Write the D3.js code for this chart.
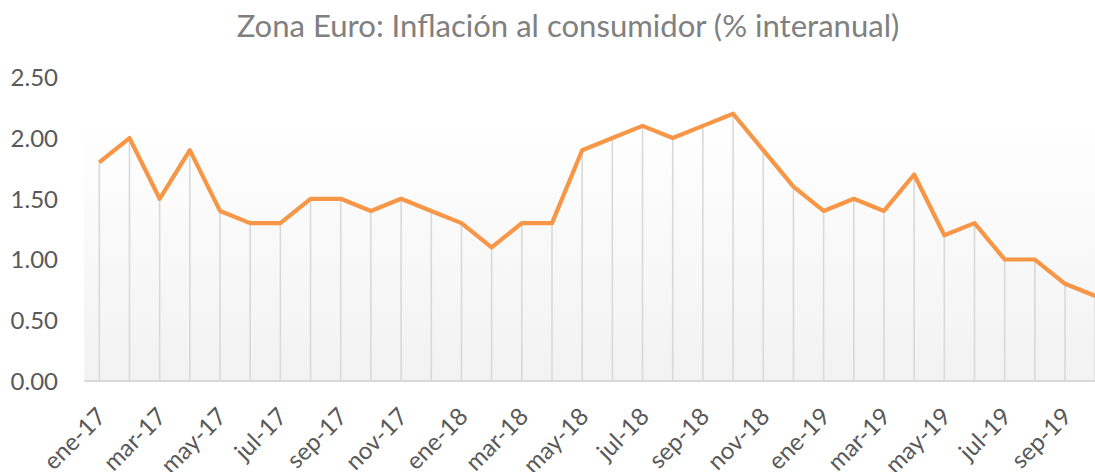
<!DOCTYPE html>
<html>
<head>
<meta charset="utf-8">
<script src="https://cdn.jsdelivr.net/npm/d3@7/dist/d3.min.js"></script>
<style>
  html, body { margin: 0; padding: 0; background: #fff; }
  svg { display: block; }
</style>
</head>
<body>
<svg id="chart" width="1095" height="472"></svg>
<script>
const months = ["ene-17","feb-17","mar-17","abr-17","may-17","jun-17","jul-17","ago-17","sep-17","oct-17","nov-17","dic-17",
                "ene-18","feb-18","mar-18","abr-18","may-18","jun-18","jul-18","ago-18","sep-18","oct-18","nov-18","dic-18",
                "ene-19","feb-19","mar-19","abr-19","may-19","jun-19","jul-19","ago-19","sep-19","oct-19"];
const inflation = [1.8,2.0,1.5,1.9,1.4,1.3,1.3,1.5,1.5,1.4,1.5,1.4,
                   1.3,1.1,1.3,1.3,1.9,2.0,2.1,2.0,2.1,2.2,1.9,1.6,
                   1.4,1.5,1.4,1.7,1.2,1.3,1.0,1.0,0.8,0.7];
const yTicks = [0, 0.5, 1.0, 1.5, 2.0, 2.5];
const xTickLabels = months.filter((m, i) => i % 2 === 0);
const title = "Zona Euro: Inflación al consumidor (% interanual)";

const svg = d3.select("#chart");
const W = 1095, H = 472;
const left = 84.2, bandW = 30.18;
const x = d3.scaleBand().domain(months).range([left, left + bandW * months.length]).padding(0);
const y = d3.scaleLinear().domain([0, 2.5]).range([381, 77.3]);
const cx = m => x(m) + x.bandwidth() / 2;

// background gradient
const defs = svg.append("defs");
const grad = defs.append("linearGradient").attr("id", "bg").attr("x1", 0).attr("y1", 0).attr("x2", 0).attr("y2", 1);
grad.append("stop").attr("offset", "0%").attr("stop-color", "#ffffff");
grad.append("stop").attr("offset", "100%").attr("stop-color", "#f2f2f2");
const gTop = 117;
svg.append("rect").attr("x", left).attr("y", gTop).attr("width", W - left).attr("height", y(0) - gTop)
  .attr("fill", "url(#bg)");

// drop lines
svg.append("g").selectAll("line").data(months).join("line")
  .attr("x1", (d) => cx(d)).attr("x2", (d) => cx(d))
  .attr("y1", (d, i) => y(inflation[i])).attr("y2", y(0))
  .attr("stroke", "#d9d9d9").attr("stroke-width", 1.6);

// baseline
svg.append("line").attr("x1", left).attr("x2", W).attr("y1", y(0)).attr("y2", y(0))
  .attr("stroke", "#d9d9d9").attr("stroke-width", 2);

// line
const line = d3.line().x((d, i) => cx(months[i])).y(d => y(d));
svg.append("path").datum(inflation).attr("d", line)
  .attr("fill", "none").attr("stroke", "#f79646").attr("stroke-width", 4.2)
  .attr("stroke-linejoin", "round").attr("stroke-linecap", "butt");

// y axis labels
const yAxis = d3.axisLeft(y).tickValues(yTicks).tickFormat(d3.format(".2f")).tickSize(0).tickPadding(0);
const gy = svg.append("g").attr("transform", "translate(58,0)").call(yAxis);
gy.select(".domain").remove();
gy.selectAll("text").attr("font-family", "Lato, 'Open Sans', sans-serif").attr("font-size", 24)
  .attr("fill", "#595959").attr("dy", "0.35em").attr("text-anchor", "end");

// x axis labels
const xAxis = d3.axisBottom(x).tickValues(xTickLabels).tickSize(0).tickPadding(0);
const gx = svg.append("g").attr("transform", `translate(0,${y(0)})`).call(xAxis);
gx.select(".domain").remove();
gx.selectAll("text")
  .attr("font-family", "Lato, 'Open Sans', sans-serif").attr("font-size", 24).attr("fill", "#595959")
  .attr("text-anchor", "end").attr("y", 0).attr("dy", "0.35em")
  .attr("transform", "translate(2,31) rotate(-45)");

// title
const t = svg.append("text").attr("x", 568).attr("y", 36.5).attr("text-anchor", "middle")
  .attr("font-family", "Lato, 'Open Sans', sans-serif").attr("font-size", 26).attr("fill", "#808080")
  .text(title);
const len = t.node().getComputedTextLength();
t.attr("font-size", 26 * 663 / len);
</script>
</body>
</html>
